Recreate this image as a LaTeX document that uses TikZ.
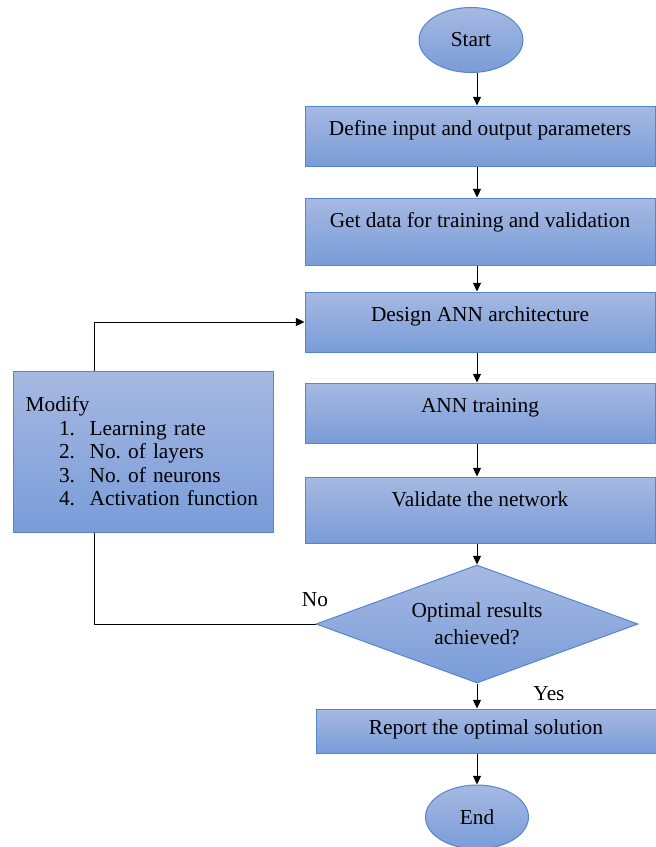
\documentclass[tikz,border=0pt]{standalone}
\usepackage{fontspec}
\setmainfont{Liberation Serif}
\usetikzlibrary{arrows.meta,shapes.geometric}
\definecolor{boxtop}{RGB}{166,185,226}
\definecolor{boxbot}{RGB}{121,156,216}
\definecolor{boxline}{RGB}{84,134,208}
\frenchspacing

\begin{document}
\begin{tikzpicture}[x=0.75pt,y=-0.75pt,
  every node/.style={font=\fontsize{16}{17.6}\selectfont},
  shaded/.style={draw=boxline,line width=0.75pt,top color=boxtop,bottom color=boxbot},
  procbox/.style={shaded,rectangle,minimum width=262.5pt,inner ysep=0pt,text height=22pt},
  termin/.style={shaded,ellipse,minimum width=78pt,minimum height=48.75pt,inner sep=0pt},
  decision/.style={shaded,diamond,aspect=2.73,minimum width=241.5pt,minimum height=88.5pt,inner sep=0pt,
    align=center,font=\fontsize{16}{20}\selectfont},
  arr/.style={-{Triangle[length=6.5pt,width=6pt]},line width=0.75pt}]
  \useasboundingbox (0,0) rectangle (656,847);
  \node[termin] (start) at (471,40) {Start};
  \node[procbox,text depth=23pt] (b1) at (480,136) {Define input and output parameters};
  \node[procbox,text depth=28.25pt] (b2) at (480,231.5) {Get data for training and validation};
  \node[procbox,text depth=23pt] (b3) at (480,322) {Design ANN architecture};
  \node[procbox,text depth=23pt] (b4) at (480,413) {ANN training};
  \node[procbox,text depth=27.5pt] (b5) at (480,510) {Validate the network};
  \node[decision] (dec) at (477,624) {Optimal results\\achieved?};
  \node[procbox,minimum width=255pt,text height=19pt,text depth=14pt] (rep) at (486,731) {Report the optimal solution};
  \node[termin,minimum width=77.25pt,minimum height=48pt] (stop) at (477,817) {End};
  \node[shaded,rectangle,text width=176pt,inner xsep=9.5pt,minimum height=120.75pt,align=left] (mod) at (143,451.5)
    {Modify\\
     \hspace*{25pt}\makebox[23pt][l]{1.}Learning rate\\
     \hspace*{25pt}\makebox[23pt][l]{2.}No. of layers\\
     \hspace*{25pt}\makebox[23pt][l]{3.}No. of neurons\\
     \hspace*{25pt}\makebox[23pt][l]{4.}Activation function};
  \node (no) at (315,600) {No};
  \node (yes) at (549,694) {Yes};

  % main flow
  \coordinate (ax) at (477,0);
  \foreach \a/\b in {start/b1,b1/b2,b2/b3,b3/b4,b4/b5,b5/dec,dec/rep,rep/stop}
    \draw[arr] (\a.south -| ax) -- (\b.north -| ax);

  % loop back
  \coordinate (lx) at (94,451);
  \draw[arr] (lx |- mod.north) |- (b3.west);
  \draw[line width=0.75pt] (lx |- mod.south) |- (dec.west);
\end{tikzpicture}
\end{document}
